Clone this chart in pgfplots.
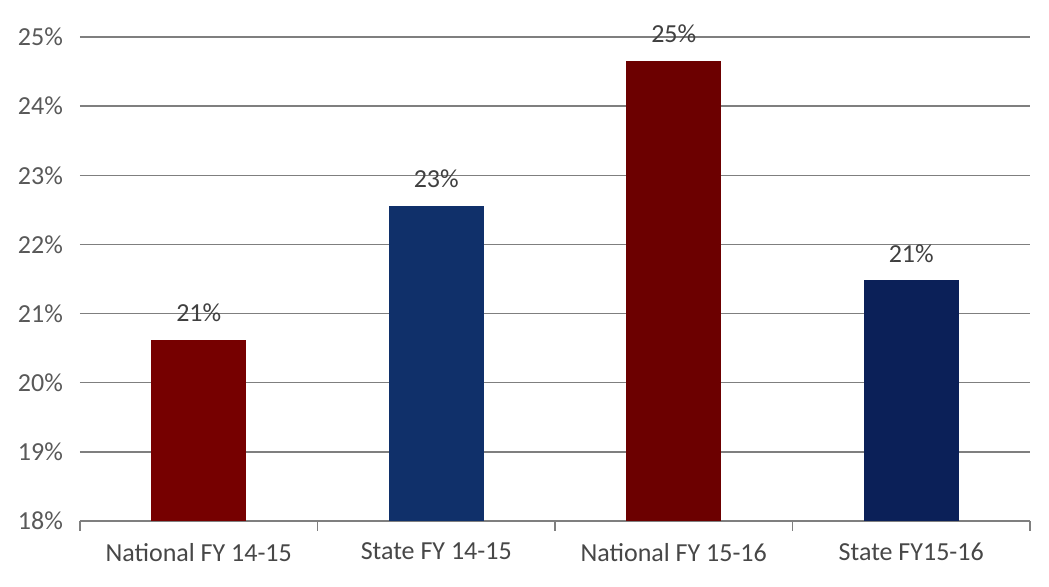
\documentclass[border=0pt]{standalone}
\usepackage{pgfplots}
\pgfplotsset{compat=1.18}
\usepackage{fontspec}
\setmainfont{Carlito}
\definecolor{natred}{HTML}{760000}
\definecolor{natred2}{HTML}{6C0000}
\definecolor{stblue}{HTML}{10306A}
\definecolor{stblue2}{HTML}{0B2058}
\definecolor{gridgray}{HTML}{7F7F7F}
\definecolor{labgray}{HTML}{595959}
\begin{document}
\begin{tikzpicture}[font=\fontsize{13}{15}\selectfont]
\useasboundingbox (0,0) rectangle (524.5pt,293.5pt);
\begin{axis}[
    at={(40pt,33pt)}, anchor=south west,
    scale only axis,
    width=475pt, height=242pt,
    ybar, bar width=0.4, bar shift=0pt,
    xmin=-0.5, xmax=3.5,
    ymin=18, ymax=25,
    xtick={0,1,2,3},
    xticklabels={National FY 14-15, State FY 14-15, National FY 15-16, State FY15-16},
    minor xtick={-0.5,0.5,1.5,2.5,3.5},
    ytick={18,19,...,25},
    yticklabel={\pgfmathprintnumber{\tick}\%},
    /pgf/number format/assume math mode=true,
    axis x line*=bottom, axis y line*=left,
    y axis line style={draw=none},
    x axis line style={gridgray, line width=0.7pt},
    ytick style={draw=none},
    tick align=outside,
    major tick length=0pt, minor tick length=5pt,
    minor tick style={gridgray, line width=0.7pt},
    ymajorgrids,
    major grid style={gridgray, line width=0.7pt},
    xticklabel style={text=labgray!80!black, yshift=-7.5pt},
    yticklabel style={text=labgray, xshift=-5pt},
    nodes near coords={\pgfmathprintnumber[fixed,precision=0]{\pgfplotspointmeta}\%},
    nodes near coords style={text=black!75, yshift=5.5pt},
    clip=false,
]
\addplot[fill=natred, draw=none] coordinates {(0,20.62)};
\addplot[fill=stblue, draw=none] coordinates {(1,22.56)};
\addplot[fill=natred2, draw=none] coordinates {(2,24.65)};
\addplot[fill=stblue2, draw=none] coordinates {(3,21.48)};
\end{axis}
\end{tikzpicture}
\end{document}
